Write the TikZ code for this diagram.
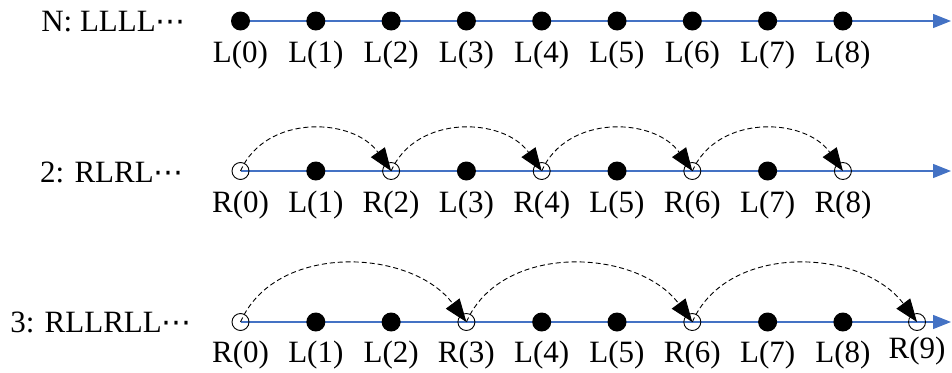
\documentclass[tikz,border=0pt]{standalone}
\usepackage{fontspec}
\setmainfont{Liberation Serif}
\newfontfamily\dotsfont{DejaVu Sans}
\usetikzlibrary{arrows.meta}
\definecolor{axisblue}{HTML}{4472C4}
\newcommand{\mydots}{{\dotsfont\fontsize{30}{32}\selectfont ⋯}}
\begin{document}
\begin{tikzpicture}[x=1pt,y=-1pt,
  fulldot/.style={circle,fill=black,draw=none,minimum size=19pt,inner sep=0pt},
  opendot/.style={circle,draw=black,line width=0.9pt,minimum size=17pt,inner sep=0pt},
  axis/.style={draw=axisblue,line width=1.1pt,-{Triangle[length=18pt,width=14pt]}},
  hop/.style={draw=black,line width=0.9pt,dash pattern=on 5pt off 3pt,-{Triangle[length=23pt,width=17pt]}},
  ptlabel/.style={font=\fontsize{31}{32}\selectfont,inner sep=0pt},
  rowlabel/.style={font=\fontsize{31}{32}\selectfont,inner sep=0pt,anchor=east}]
\useasboundingbox (0,0) rectangle (952,372);
% ---------- row 1 ----------
\node[rowlabel] (lab1) at (186,22) {N: LLLL\mydots};
\coordinate (a0) at (240.5,21);
\coordinate (end1) at (951,21);
\draw[axis] (a0) -- (end1);
\foreach \i in {0,...,8}{
  \node[fulldot] (n\i) at (240.5+75.3*\i,21) {};
  \node[ptlabel] (nl\i) at (240.5+75.3*\i,55) {L(\i)};
}
% ---------- row 2 ----------
\node[rowlabel] (lab2) at (184,172) {2: RLRL\mydots};
\coordinate (b0) at (240.5,171);
\coordinate (end2) at (951,171);
\draw[axis] (b0) -- (end2);
\foreach \i in {0,2,4,6,8}{
  \node[opendot] (t\i) at (240.5+75.3*\i,171) {};
  \node[ptlabel] (tl\i) at (240.5+75.3*\i,205) {R(\i)};
}
\foreach \i in {1,3,5,7}{
  \node[fulldot] (t\i) at (240.5+75.3*\i,171) {};
  \node[ptlabel] (tl\i) at (240.5+75.3*\i,205) {L(\i)};
}
\foreach \i/\j in {0/2,2/4,4/6,6/8}{
  \draw[hop] (t\i.center) .. controls +(25,-57) and +(-38,-54) .. (t\j.center);
}
% ---------- row 3 ----------
\node[rowlabel] (lab3) at (192,322) {3: RLLRLL\mydots};
\coordinate (c0) at (240.5,322);
\coordinate (end3) at (951,322);
\draw[axis] (c0) -- (end3);
\foreach \i in {0,3,6}{
  \node[opendot] (h\i) at (240.5+75.3*\i,322) {};
  \node[ptlabel] (hl\i) at (240.5+75.3*\i,355) {R(\i)};
}
\node[opendot] (h9) at (917,322) {};
\node[ptlabel] (hl9) at (917,351) {R(9)};
\foreach \i in {1,2,4,5,7,8}{
  \node[fulldot] (h\i) at (240.5+75.3*\i,322) {};
  \node[ptlabel] (hl\i) at (240.5+75.3*\i,355) {L(\i)};
}
\foreach \i/\j in {0/3,3/6,6/9}{
  \draw[hop] (h\i.center) .. controls +(35,-80) and +(-55,-74) .. (h\j.center);
}
\end{tikzpicture}
\end{document}
